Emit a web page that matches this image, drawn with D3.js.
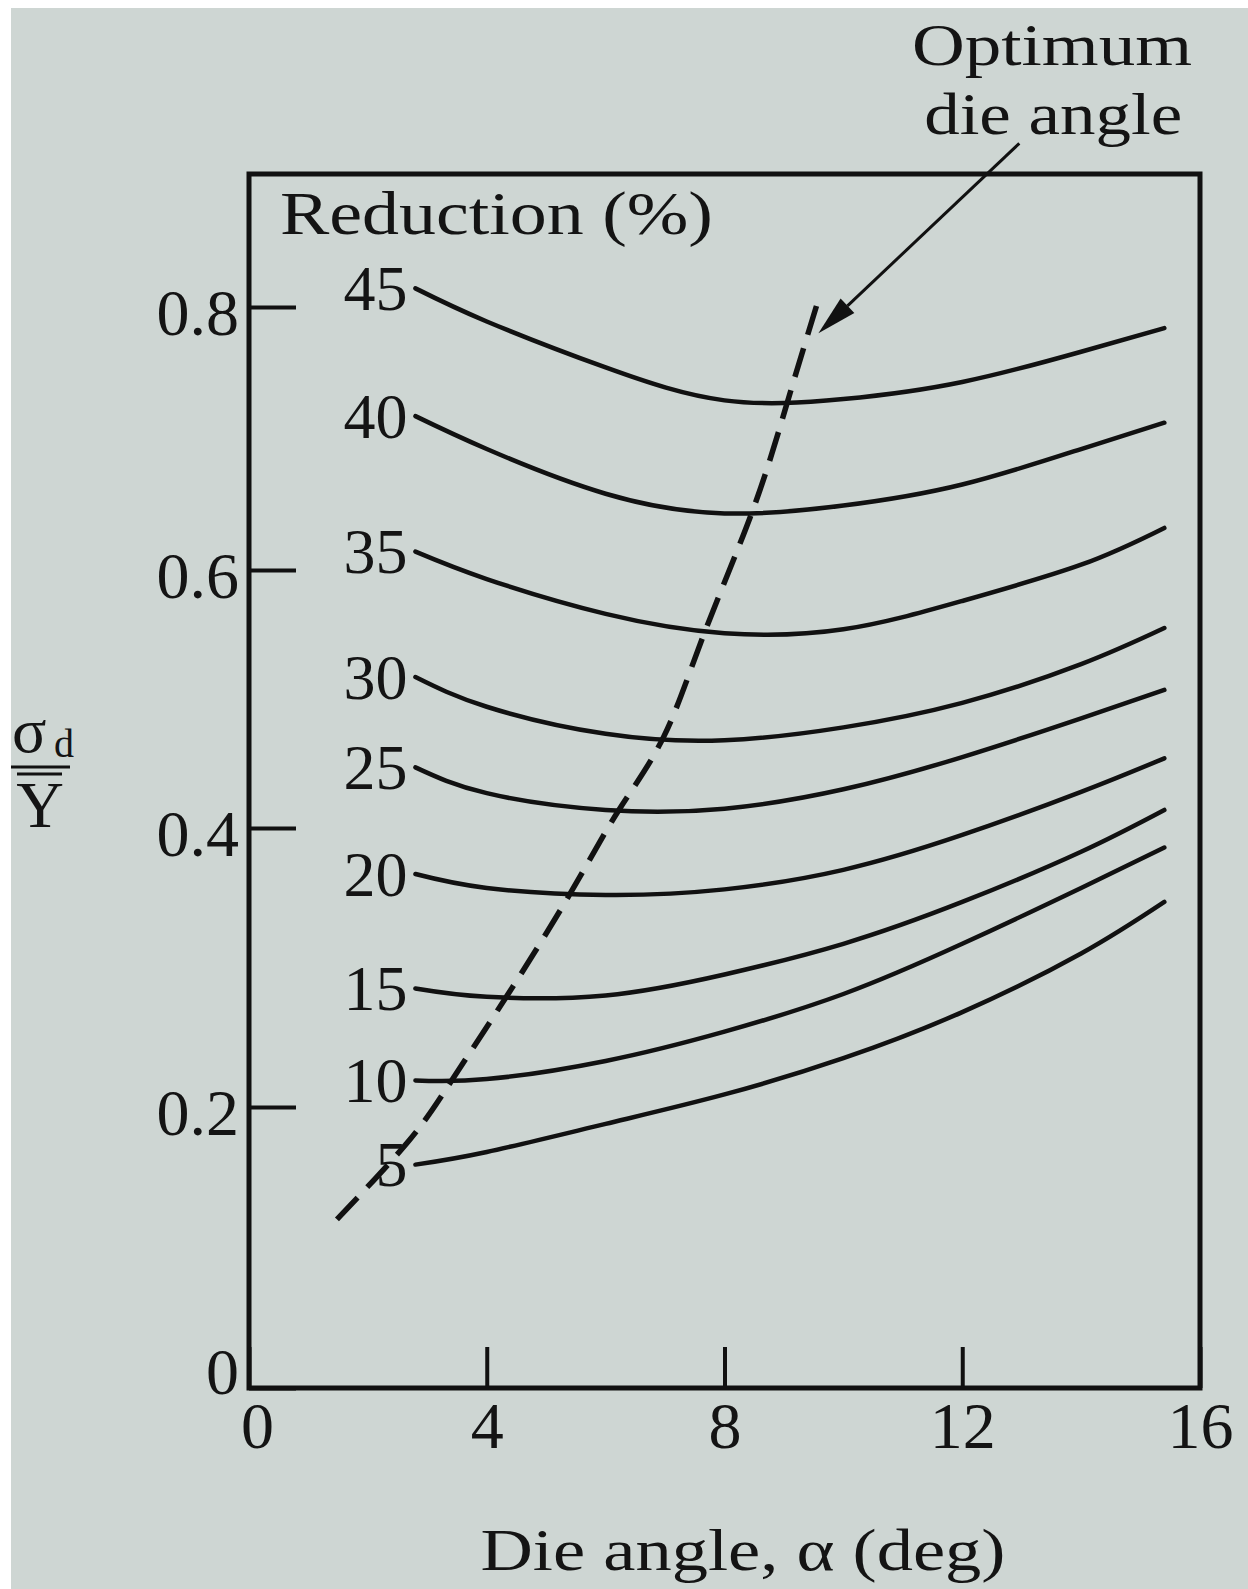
<!DOCTYPE html>
<html>
<head>
<meta charset="utf-8">
<script src="https://cdn.jsdelivr.net/npm/d3@7"></script>
<style>
  body { margin: 0; background: #fff; }
  svg text { font-family: "Liberation Serif", "Times New Roman", serif; fill: #141414; }
</style>
</head>
<body>
<div id="graph"></div>
<script>
// values
const angles = [2.8, 4, 6, 8, 10, 12, 14, 15.4];   // die angle (deg)
const reductions = [45, 40, 35, 30, 25, 20, 15, 10, 5];
const stress45 = [0.814, 0.789, 0.754, 0.729, 0.730, 0.743, 0.766, 0.784];
const stress40 = [0.717, 0.692, 0.658, 0.643, 0.649, 0.665, 0.692, 0.712];
const stress35 = [0.614, 0.593, 0.566, 0.551, 0.554, 0.576, 0.604, 0.632];
const stress30 = [0.517, 0.494, 0.473, 0.468, 0.478, 0.497, 0.527, 0.555];
const stress25 = [0.447, 0.427, 0.414, 0.415, 0.430, 0.455, 0.485, 0.507];
const stress20 = [0.367, 0.357, 0.352, 0.356, 0.370, 0.395, 0.428, 0.454];
const stress15 = [0.285, 0.279, 0.280, 0.295, 0.317, 0.347, 0.383, 0.414];
const stress10 = [0.219, 0.220, 0.233, 0.254, 0.281, 0.317, 0.357, 0.386];
const stress5  = [0.159, 0.168, 0.188, 0.209, 0.235, 0.268, 0.310, 0.347];
const optAngle  = [1.48, 2.69, 3.41, 4.33, 5.39, 6.21, 6.98, 7.66, 8.48, 9.06, 9.59];
const optStress = [0.120, 0.176, 0.219, 0.279, 0.352, 0.413, 0.471, 0.551, 0.646, 0.728, 0.807];
const xTicks = [0, 4, 8, 12, 16];
const yTicks = [0, 0.2, 0.4, 0.6, 0.8];

const series = [stress45, stress40, stress35, stress30, stress25, stress20, stress15, stress10, stress5];

const width = 1248;
const height = 1589;

let svg = d3.select("#graph").append("svg")
  .attr("width", width)
  .attr("height", height);

// scanned page: white edge, grey paper
svg.append("rect")
  .attr("x", 11).attr("y", 8)
  .attr("width", width - 11).attr("height", height - 8)
  .attr("fill", "#ced6d3");

// the printed y axis is not quite even, so the scale follows its ticks
let x = d3.scaleLinear().domain([0, 16]).range([249, 1200]);
let y = d3.scaleLinear()
  .domain([0, 0.2, 0.4, 0.6, 0.8, 0.9])
  .range([1388, 1107, 828, 570, 307, 174]);

// frame
svg.append("rect")
  .attr("x", x(0))
  .attr("y", y(0.9))
  .attr("width", x(16) - x(0))
  .attr("height", y(0) - y(0.9))
  .attr("fill", "none")
  .attr("stroke", "#111")
  .attr("stroke-width", 5);

let x_axis = svg.append("g")
  .attr("transform", `translate(0, ${y(0)})`)
  .call(d3.axisBottom(x).tickValues(xTicks).tickSizeInner(-41).tickSizeOuter(0).tickPadding(13));
let y_axis = svg.append("g")
  .attr("transform", `translate(${x(0)}, 0)`)
  .call(d3.axisLeft(y).tickValues(yTicks).tickSizeInner(-47).tickSizeOuter(0).tickPadding(10)
    .tickFormat(d => d === 0 ? "0" : d3.format(".1f")(d)));

[x_axis, y_axis].forEach(g => {
  g.select(".domain").remove();
  g.selectAll("line").attr("stroke", "#111").attr("stroke-width", 4);
  g.selectAll("text")
    .attr("fill", "#141414")
    .style("font-family", "'Liberation Serif', serif")
    .style("font-size", "66px");
});
y_axis.selectAll("text").attr("dy", "0.42em");
y_axis.selectAll("text").filter(d => d === 0).attr("y", -22);
x_axis.selectAll("text").filter(d => d === 0).attr("dx", 8);

// reduction curves
let line = d3.line()
  .x(d => x(d[0]))
  .y(d => y(d[1]))
  .curve(d3.curveNatural);

svg.append("g")
  .selectAll("path")
  .data(series)
  .enter()
  .append("path")
  .attr("d", s => line(angles.map((a, i) => [a, s[i]])))
  .attr("fill", "none")
  .attr("stroke", "#111")
  .attr("stroke-width", 4.5)
  .attr("stroke-linecap", "round");

svg.append("g")
  .selectAll("text")
  .data(reductions)
  .enter()
  .append("text")
  .attr("x", x(angles[0]) - 8)
  .attr("y", (d, i) => y(series[i][0]))
  .attr("dy", "0.34em")
  .style("text-anchor", "end")
  .style("font-size", "64px")
  .text(d => d);

// optimum die angle (dashed)
svg.append("path")
  .attr("d", line(optAngle.map((a, i) => [a, optStress[i]])))
  .attr("fill", "none")
  .attr("stroke", "#111")
  .attr("stroke-width", 5.5)
  .attr("stroke-dasharray", "30,14");

svg.append("text")
  .attr("x", x(0.52))
  .attr("y", y(0.855))
  .attr("textLength", 433)
  .attr("lengthAdjust", "spacingAndGlyphs")
  .style("font-size", "62px")
  .text("Reduction (%)");

// annotation + arrow
svg.append("text")
  .attr("x", x(13.51)).attr("y", y(0.982))
  .attr("textLength", 280).attr("lengthAdjust", "spacingAndGlyphs")
  .style("text-anchor", "middle").style("font-size", "60px")
  .text("Optimum");
svg.append("text")
  .attr("x", x(13.53)).attr("y", y(0.930))
  .attr("textLength", 258).attr("lengthAdjust", "spacingAndGlyphs")
  .style("text-anchor", "middle").style("font-size", "60px")
  .text("die angle");

const tail = [x(12.96), y(0.923)];
const tip = [x(9.58), y(0.780)];
const ang = Math.atan2(tip[1] - tail[1], tip[0] - tail[0]);
const head_len = 40, head_w = 10;
const base = [tip[0] - head_len * Math.cos(ang), tip[1] - head_len * Math.sin(ang)];
svg.append("line")
  .attr("x1", tail[0]).attr("y1", tail[1])
  .attr("x2", base[0]).attr("y2", base[1])
  .attr("stroke", "#111").attr("stroke-width", 3);
svg.append("polygon")
  .attr("points", [
    tip,
    [base[0] + head_w * Math.sin(ang), base[1] - head_w * Math.cos(ang)],
    [base[0] - head_w * Math.sin(ang), base[1] + head_w * Math.cos(ang)]
  ].map(p => p.join(",")).join(" "))
  .attr("fill", "#111");

// x axis title
svg.append("text")
  .attr("x", 743).attr("y", 1570)
  .attr("textLength", 525).attr("lengthAdjust", "spacingAndGlyphs")
  .style("text-anchor", "middle").style("font-size", "60px")
  .text("Die angle, α (deg)");

// y axis title: sigma_d over Y-bar
let ylab = svg.append("g");
let sig = ylab.append("text")
  .attr("x", 12).attr("y", 752)
  .style("font-size", "64px");
sig.append("tspan").text("σ");
sig.append("tspan").attr("x", 54).attr("y", 757).style("font-size", "40px").text("d");
ylab.append("line")
  .attr("x1", 11).attr("x2", 70).attr("y1", 767).attr("y2", 767)
  .attr("stroke", "#111").attr("stroke-width", 3);
ylab.append("line")
  .attr("x1", 17).attr("x2", 62).attr("y1", 774).attr("y2", 774)
  .attr("stroke", "#111").attr("stroke-width", 3);
ylab.append("text")
  .attr("x", 40).attr("y", 827)
  .style("text-anchor", "middle").style("font-size", "66px")
  .text("Y");
</script>
</body>
</html>
